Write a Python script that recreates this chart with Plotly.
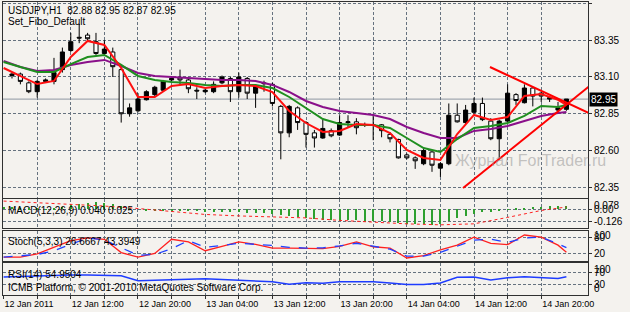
import plotly.graph_objects as go

W, H = 630, 312

# ---------------- data (hourly bars; index 0 = 12 Jan 04:00) ----------------
bar_idx = list(range(1, 68))
opens = [83.11, 83.12, 83.06, 83.00, 83.07, 83.07, 83.15, 83.28, 83.37, 83.385,
         83.34, 83.26, 83.27, 83.15, 82.85, 82.87, 82.945, 82.98, 83.01, 83.08,
         83.095, 83.08, 83.01, 83.00, 83.00, 83.06, 83.09, 83.00, 83.09, 82.99,
         83.06, 83.05, 82.90, 82.72, 82.89, 82.79, 82.72, 82.685, 82.735, 82.705,
         82.79, 82.795, 82.77, 82.775, 82.775, 82.71, 82.675, 82.57, 82.55, 82.51,
         82.59, 82.48, 82.51, 82.84, 82.79, 82.86, 82.92, 82.80, 82.68, 82.80,
         82.98, 82.925, 83.025, 82.99, 82.96, 82.875, 82.88]
highs = [83.13, 83.13, 83.07, 83.08, 83.09, 83.23, 83.30, 83.40, 83.46, 83.40,
         83.40, 83.35, 83.30, 83.16, 82.92, 82.99, 83.01, 83.04, 83.08, 83.10,
         83.15, 83.09, 83.03, 83.02, 83.07, 83.11, 83.10, 83.13, 83.10, 83.05,
         83.075, 83.06, 82.91, 82.91, 82.90, 82.80, 82.74, 82.81, 82.75, 82.84,
         82.84, 82.82, 82.79, 82.84, 82.78, 82.725, 82.68, 82.58, 82.56, 82.61,
         82.60, 82.52, 82.92, 82.92, 82.91, 82.96, 82.96, 82.82, 82.81, 83.05,
         82.99, 83.05, 83.03, 83.00, 82.97, 82.93, 82.95]
lows = [83.09, 83.05, 82.99, 82.96, 83.06, 83.05, 83.13, 83.27, 83.33, 83.34,
        83.25, 83.25, 83.10, 82.79, 82.83, 82.86, 82.94, 82.97, 83.00, 83.07,
        83.05, 82.99, 82.95, 82.99, 82.99, 83.05, 82.93, 82.96, 82.95, 82.89,
        83.00, 82.90, 82.54, 82.69, 82.74, 82.62, 82.62, 82.68, 82.69, 82.70,
        82.76, 82.71, 82.76, 82.67, 82.69, 82.655, 82.545, 82.54, 82.475, 82.50,
        82.455, 82.42, 82.50, 82.79, 82.78, 82.85, 82.80, 82.67, 82.55, 82.79,
        82.91, 82.92, 82.90, 82.93, 82.93, 82.86, 82.87]
closes = [83.12, 83.07, 83.00, 83.07, 83.08, 83.13, 83.27, 83.34, 83.365, 83.36,
          83.26, 83.29, 83.17, 82.85, 82.89, 82.95, 83.00, 83.03, 83.07, 83.09,
          83.08, 83.02, 83.005, 83.01, 83.05, 83.10, 83.00, 83.10, 82.99, 83.04,
          83.055, 82.92, 82.72, 82.90, 82.79, 82.71, 82.685, 82.75, 82.70, 82.79,
          82.795, 82.755, 82.775, 82.77, 82.735, 82.68, 82.55, 82.55, 82.53, 82.60,
          82.50, 82.51, 82.84, 82.795, 82.875, 82.92, 82.81, 82.68, 82.80, 82.99,
          82.94, 83.025, 82.97, 82.97, 82.95, 82.89, 82.95]

# indicator lines read at every 2nd bar (+ last bar)
line_idx = [0, 2, 4, 6, 8, 10, 12, 14, 16, 18, 20, 22, 24, 26, 28, 30, 32, 34,
            36, 38, 40, 42, 44, 46, 48, 50, 52, 54, 56, 58, 60, 62, 64, 66, 67]
ma_red = [83.161, 83.107, 83.052, 83.073, 83.236, 83.345, 83.318, 83.161, 82.964,
          82.964, 83.039, 83.052, 83.025, 83.039, 83.046, 83.039, 82.998, 82.869,
          82.787, 82.726, 82.733, 82.780, 82.774, 82.719, 82.604, 82.549, 82.536,
          82.712, 82.842, 82.808, 82.828, 82.971, 82.984, 82.944, 82.910]
ma_green = [83.202, 83.168, 83.134, 83.134, 83.188, 83.236, 83.250, 83.182, 83.107,
            83.080, 83.066, 83.059, 83.046, 83.039, 83.046, 83.046, 83.025, 82.964,
            82.889, 82.814, 82.780, 82.774, 82.774, 82.753, 82.685, 82.617, 82.590,
            82.678, 82.753, 82.767, 82.787, 82.835, 82.903, 82.896, 82.910]
ma_purple = [83.209, 83.168, 83.141, 83.148, 83.182, 83.202, 83.216, 83.175, 83.127,
             83.107, 83.100, 83.093, 83.086, 83.080, 83.080, 83.073, 83.046, 82.998,
             82.937, 82.896, 82.869, 82.855, 82.842, 82.814, 82.760, 82.719, 82.685,
             82.685, 82.733, 82.746, 82.767, 82.801, 82.835, 82.855, 82.862]

macd_idx = list(range(0, 68))
macd_main = [0.030, 0.025, 0.020, 0.012, 0.006, 0.005, 0.010, 0.025, 0.045, 0.060,
             0.070, 0.072, 0.068, 0.060, 0.035, 0.015, 0.000, -0.008, -0.012, -0.012,
             -0.010, -0.010, -0.014, -0.018, -0.022, -0.025, -0.025, -0.030, -0.030, -0.035,
             -0.038, -0.040, -0.045, -0.060, -0.070, -0.078, -0.090, -0.100, -0.105, -0.110,
             -0.112, -0.110, -0.110, -0.112, -0.115, -0.120, -0.125, -0.135, -0.145, -0.150,
             -0.150, -0.152, -0.150, -0.115, -0.090, -0.065, -0.045, -0.030, -0.022, -0.012,
             -0.002, 0.008, 0.018, 0.025, 0.030, 0.035, 0.038, 0.040]
signal_idx = [0, 4, 8, 12, 16, 20, 24, 28, 32, 36, 40, 44, 48, 52, 56, 60, 64, 67]
macd_signal = [0.085, 0.068, 0.050, 0.035, 0.010, -0.020, -0.050, -0.065, -0.078,
               -0.085, -0.110, -0.130, -0.145, -0.155, -0.145, -0.080, -0.010, 0.025]

stoch_main = [8, 8, 20, 45, 70, 80, 75, 25, 8, 22, 75, 65, 32, 48, 65, 56, 42, 42,
              40, 40, 48, 65, 47, 42, 5, 14, 35, 53, 83, 60, 55, 91, 83, 53, 26.6667]
stoch_signal = [8, 12, 18, 32, 55, 80, 72, 45, 15, 18, 40, 70, 45, 52, 60, 56, 52, 45,
                42, 43, 50, 60, 50, 38, 12, 12, 26, 50, 72, 75, 63, 80, 83, 58, 43.3949]
rsi = [54, 56, 58, 60, 61, 61, 60, 58, 42, 43, 45, 47, 48, 46, 43, 41, 38, 30,
       35, 33, 38, 38, 38, 34, 29, 29, 34, 53, 54, 44, 52, 55, 51, 49, 54.9504]

# time axis: a grid line every 4 bars, a label every 8 bars
grid_idx = list(range(0, 68, 4))
time_labels = ["12 Jan 2011", "", "12 Jan 12:00", "", "12 Jan 20:00", "", "13 Jan 04:00", "",
               "13 Jan 12:00", "", "13 Jan 20:00", "", "14 Jan 04:00", "", "14 Jan 12:00", "",
               "14 Jan 20:00"]
price_ticks = [83.60, 83.35, 83.10, 82.85, 82.60, 82.35]

# trend lines drawn on the chart (bar index, price)
trend1_x = [57.9, 70.0]
trend1_y = [83.168, 82.846]
trend2_x = [54.7, 70.0]
trend2_y = [82.345, 83.050]

# ---------------- styling ----------------
BG = "#f4f2ee"
GRID = "#66727f"
FRAME = "#303030"
FONT = "Liberation Sans"

def px(x):
    return x / W

def py(y):
    return 1 - y / H

xdom = [px(3), px(588)]
dom_main = [py(198), py(2)]
dom_macd = [py(228), py(199)]
dom_stoch = [py(261), py(231)]
dom_rsi = [py(295), py(263)]

fig = go.Figure()

fig.add_trace(go.Candlestick(
    x=bar_idx, open=opens, high=highs, low=lows, close=closes,
    increasing=dict(line=dict(color="black", width=1), fillcolor="black"),
    decreasing=dict(line=dict(color="black", width=1), fillcolor="white"),
    whiskerwidth=0, xaxis="x", yaxis="y", showlegend=False, hoverinfo="skip"))

for vals, col in [(ma_purple, "#8a108a"), (ma_green, "#1f8f1f"), (ma_red, "#ff1010")]:
    fig.add_trace(go.Scatter(x=line_idx, y=vals, mode="lines",
                             line=dict(color=col, width=2),
                             xaxis="x", yaxis="y", showlegend=False, hoverinfo="skip"))

for tx, ty in [(trend1_x, trend1_y), (trend2_x, trend2_y)]:
    fig.add_trace(go.Scatter(x=tx, y=ty, mode="lines", line=dict(color="#ff0000", width=2),
                             xaxis="x", yaxis="y", showlegend=False, hoverinfo="skip"))

# MACD
fig.add_trace(go.Bar(x=macd_idx, y=macd_main, width=0.14, marker=dict(color="#2ea02e", line=dict(width=0)),
                     xaxis="x2", yaxis="y2", showlegend=False, hoverinfo="skip"))
fig.add_trace(go.Scatter(x=signal_idx, y=macd_signal, mode="lines",
                         line=dict(color="#ff2020", width=1, dash="dot"),
                         xaxis="x2", yaxis="y2", showlegend=False, hoverinfo="skip"))

# Stochastic
fig.add_trace(go.Scatter(x=line_idx, y=stoch_main, mode="lines",
                         line=dict(color="#ff2020", width=1.3),
                         xaxis="x3", yaxis="y3", showlegend=False, hoverinfo="skip"))
fig.add_trace(go.Scatter(x=line_idx, y=stoch_signal, mode="lines",
                         line=dict(color="#2040ff", width=1.3, dash="dash"),
                         xaxis="x3", yaxis="y3", showlegend=False, hoverinfo="skip"))

# RSI
fig.add_trace(go.Scatter(x=line_idx, y=rsi, mode="lines",
                         line=dict(color="#1e3cff", width=1.5),
                         xaxis="x4", yaxis="y4", showlegend=False, hoverinfo="skip"))

xrange = [-0.07, 69.57]

def xaxis(anchor, show_labels=False, match=True):
    d = dict(domain=xdom, range=xrange, anchor=anchor, showline=True, mirror=True,
             linecolor=FRAME, linewidth=1, zeroline=False,
             tickmode="array", tickvals=grid_idx, ticktext=time_labels,
             showgrid=True, gridcolor=GRID, griddash="3px,2px", gridwidth=1,
             showticklabels=show_labels, ticks="outside" if show_labels else "",
             ticklen=3, tickcolor=FRAME, rangeslider=dict(visible=False), fixedrange=True)
    if match:
        d["matches"] = "x"
    if show_labels:
        d["ticklabelposition"] = "outside right"
        d["tickfont"] = dict(size=9, family=FONT, color="black")
    return d

def yaxis(anchor, dom, rng, tickvals, ticktext):
    return dict(domain=dom, range=rng, anchor=anchor, side="right", showline=True, mirror=True,
                linecolor=FRAME, linewidth=1, zeroline=False, tickmode="array",
                tickvals=tickvals, ticktext=ticktext, showgrid=True, gridcolor=GRID,
                griddash="3px,2px", gridwidth=1, ticks="outside", ticklen=3, tickcolor=FRAME,
                tickfont=dict(size=10, family=FONT, color="black"), fixedrange=True)

fig.update_layout(
    width=W, height=H, autosize=False, template="none",
    margin=dict(l=0, r=0, t=0, b=0, pad=0),
    paper_bgcolor=BG, plot_bgcolor=BG,
    font=dict(family=FONT, size=10, color="black"),
    showlegend=False, bargap=0,
    xaxis=xaxis("y", match=False),
    xaxis2=xaxis("y2"),
    xaxis3=xaxis("y3"),
    xaxis4=xaxis("y4", show_labels=True),
    yaxis=yaxis("x", dom_main, [82.277, 83.610], price_ticks, [f"{v:.2f}" for v in price_ticks]),
    yaxis2=yaxis("x2", dom_macd, [-0.187, 0.106], [0.0, -0.126], ["0.00", "-0.126"]),
    yaxis3=yaxis("x3", dom_stoch, [-6.4, 106], [80, 20], ["80", "20"]),
    yaxis4=yaxis("x4", dom_rsi, [-5.7, 100.8], [70, 30], ["70", "30"]),
)

last_close = closes[-1]
fig.add_shape(type="line", xref="x domain", x0=0, x1=1, yref="y", y0=last_close, y1=last_close,
              line=dict(color="#a2a8b0", width=1.2), layer="below")

ann = []
ann.append(dict(text=f"USDJPY,H1  {opens[-1]:.2f} {highs[-1]:.2f} {lows[-1]:.2f} {closes[-1]:.2f}",
                xref="paper", yref="paper", x=px(6), y=py(10), xanchor="left", yanchor="middle",
                showarrow=False, font=dict(size=10, family=FONT, color="black")))
ann.append(dict(text="Set_Fibo_Default", xref="paper", yref="paper", x=px(6), y=py(22),
                xanchor="left", yanchor="middle", showarrow=False,
                font=dict(size=10, family=FONT, color="black")))
ann.append(dict(text=f"{last_close:.2f}", xref="paper", yref="y", x=px(589), y=last_close,
                xanchor="left", yanchor="middle", showarrow=False, bgcolor="black",
                borderpad=1, font=dict(size=10, family=FONT, color="white")))
ann.append(dict(text="Журнал ForTrader.ru", xref="paper", yref="paper", x=px(453), y=py(160),
                xanchor="left", yanchor="middle", showarrow=False,
                font=dict(size=16, family=FONT, color="rgba(150,150,150,0.55)")))
ann.append(dict(text=f"MACD(12,26,9) {macd_main[-1]:.3f} {macd_signal[-1]:.3f}", xref="paper", yref="paper",
                x=px(6), y=py(210), xanchor="left", yanchor="middle", showarrow=False,
                font=dict(size=10, family=FONT, color="black")))
ann.append(dict(text=f"Stoch(5,3,3) {stoch_main[-1]:.4f} {stoch_signal[-1]:.4f}", xref="paper", yref="paper",
                x=px(6), y=py(241), xanchor="left", yanchor="middle", showarrow=False,
                font=dict(size=10, family=FONT, color="black")))
ann.append(dict(text=f"RSI(14) {rsi[-1]:.4f}", xref="paper", yref="paper",
                x=px(6), y=py(274), xanchor="left", yanchor="middle", showarrow=False,
                font=dict(size=10, family=FONT, color="black")))
ann.append(dict(text="ICMB Platform, © 2001-2010 MetaQuotes Software Corp.", xref="paper", yref="paper",
                x=px(6), y=py(287), xanchor="left", yanchor="middle", showarrow=False,
                font=dict(size=10, family=FONT, color="black")))
# extra MetaTrader scale labels (max/min values drawn next to the level labels)
for txt, yy in [("0.078", 205), ("100", 235), ("100", 269), ("0", 288)]:
    ann.append(dict(text=txt, xref="paper", yref="paper", x=px(592), y=py(yy), xanchor="left",
                    yanchor="middle", showarrow=False, font=dict(size=10, family=FONT, color="black")))
fig.update_layout(annotations=ann)

fig.write_html("out.html")
